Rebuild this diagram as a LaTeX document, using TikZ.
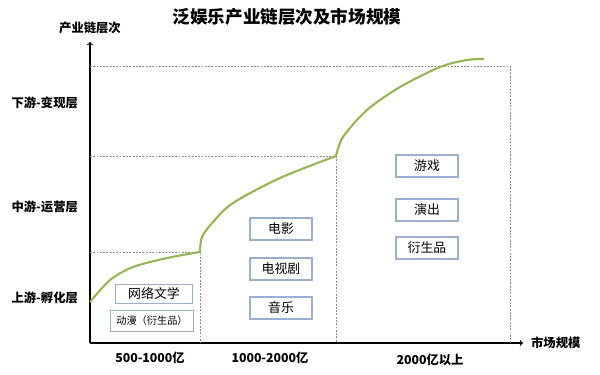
\documentclass[tikz,border=0pt]{standalone}
\usepackage{fontspec}
\setmainfont{Noto Sans CJK SC}
\usepackage{tikz}

\definecolor{curvegreen}{RGB}{150,182,84}
\definecolor{boxblue}{RGB}{155,176,204}
\definecolor{gridgray}{RGB}{140,140,140}

\tikzset{
  box/.style={draw=boxblue,line width=1.3pt,fill=white,inner sep=0pt,
    minimum width=1.86cm,minimum height=0.66cm,font=\fontsize{11pt}{12pt}\selectfont},
  grid line/.style={gridgray,dash pattern=on 1.6pt off 1.2pt,line width=0.6pt},
  layer/.style={font=\fontsize{10.5pt}{12pt}\selectfont\bfseries,anchor=east},
  scalelab/.style={font=\fontsize{10.5pt}{12pt}\selectfont\bfseries}
}

\begin{document}
\begin{tikzpicture}[x=0.03cm,y=-0.03cm]
            \useasboundingbox (0,0) rectangle (600,375);

            % axes
            \coordinate (o) at (90,343);
            \coordinate (ytop) at (90,42);
            \coordinate (xend) at (523,343);
            \draw[line width=0.9pt,->] (o) -- (ytop);
            \draw[line width=0.9pt,->] (o) -- (xend);
            \node[scalelab,anchor=south] (ylab) at (90,38) {产业链层次};
            \node[scalelab,anchor=west] (xlab) at (527,343) {市场规模};

            \node[font=\fontsize{15pt}{16pt}\selectfont\bfseries] (title) at (287,17) {泛娱乐产业链层次及市场规模};

            % tiers
            \draw[grid line] (90,66) -- (510,66) -- (510,343);
            \draw[grid line] (90,156) -- (336,156) -- (336,343);
            \draw[grid line] (90,252) -- (200,252) -- (200,343);

            \node[layer] (down) at (82,103) {下游-变现层};
            \node[layer] (mid) at (82,207) {中游-运营层};
            \node[layer] (up) at (82,298) {上游-孵化层};

            \node[scalelab] (r1) at (150,358) {500-1000亿};
            \node[scalelab] (r2) at (270,358) {1000-2000亿};
            \node[scalelab] (r3) at (430,360) {2000亿以上};

            % growth curve
            \draw[curvegreen,line width=1.8pt] plot[smooth] coordinates {(90,302) (110,280) (133,267) (167,258) (200,252)};
            \draw[curvegreen,line width=1.8pt] plot[smooth] coordinates {(200,252) (202,237) (213,222) (233,203) (280,178) (336,156)};
            \draw[curvegreen,line width=1.8pt] plot[smooth] coordinates {(336,156) (343,137) (367,110) (400,87) (440,67) (467,60) (484,59)};

            % boxes
            \node[box,minimum width=2.31cm,minimum height=0.57cm] (wenxue) at (154,294) {网络文学};
            \node[box,minimum width=2.49cm,minimum height=0.63cm,font=\fontsize{8.7pt}{10pt}\selectfont] (dongman) at (152,321) {动漫（衍生品）};
            \node[box] (dianying) at (281,229) {电影};
            \node[box] (dianshi) at (281,269) {电视剧};
            \node[box] (yinyue) at (281,308) {音乐};
            \node[box] (youxi) at (427,166) {游戏};
            \node[box] (yanchu) at (427,210) {演出};
            \node[box] (yansheng) at (427,248) {衍生品};
        \end{tikzpicture}
\end{document}
